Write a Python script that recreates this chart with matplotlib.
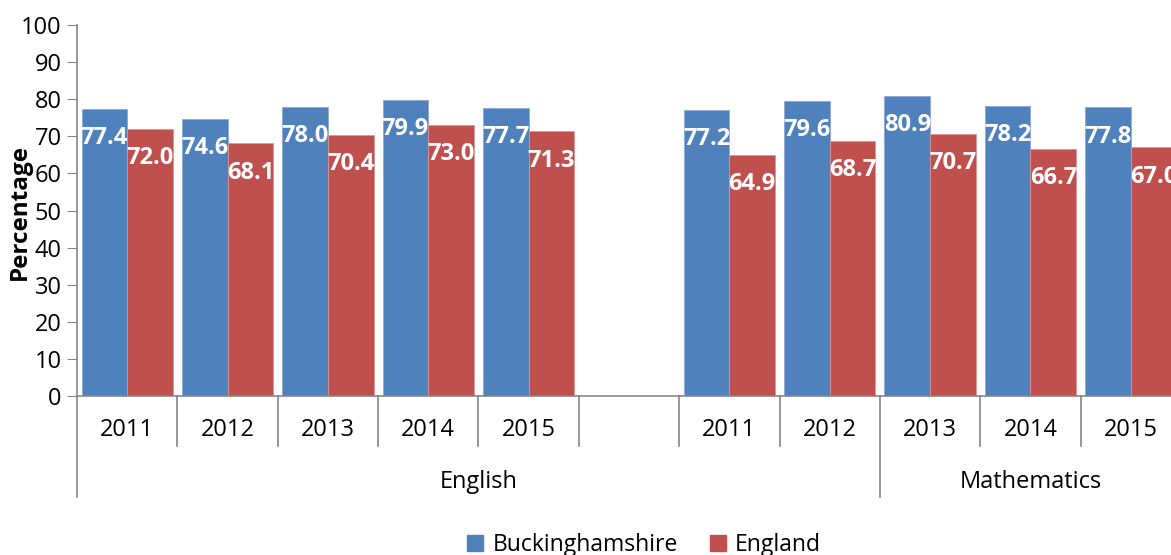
import numpy as np
import matplotlib.pyplot as plt
from matplotlib.patches import Patch

plt.rcParams['font.family'] = ['Open Sans', 'DejaVu Sans']

# category slots (one blank slot between the two runs of years)
years = ["2011", "2012", "2013", "2014", "2015", "",
         "2011", "2012", "2013", "2014", "2015"]
groups = ["English", "Mathematics"]
group_spans = [(0, 7), (8, 10)]  # first and last slot under each group label

bucks = [77.4, 74.6, 78.0, 79.9, 77.7, None, 77.2, 79.6, 80.9, 78.2, 77.8]
england = [72.0, 68.1, 70.4, 73.0, 71.3, None, 64.9, 68.7, 70.7, 66.7, 67.0]

blue = "#4F81BD"
red = "#C0504D"
grey = "#868686"

W, H = 1171, 555
fig = plt.figure(figsize=(W / 100, H / 100), dpi=100)
# plot area: x from 77px, slots 100.4px wide (the last one runs past the edge)
ax = fig.add_axes([77 / W, (H - 396) / H, (1181 - 77) / W, (396 - 25) / H])

n = len(years)
xs = np.arange(n)
w = 1 / 2.2

for x, b, e in zip(xs, bucks, england):
    if b is None:
        continue
    ax.bar(x - w / 2, b, w, color=blue, edgecolor="#8EAAD6", linewidth=0.6)
    ax.bar(x + w / 2, e, w, color=red, edgecolor="#D99694", linewidth=0.6)
    for xx, v in ((x - w / 2, b), (x + w / 2, e)):
        ax.annotate(f"{v:.1f}", xy=(xx, v), xytext=(0, -21),
                    textcoords="offset points", ha="center", va="center",
                    color="white", fontweight="bold", fontsize=17)

ax.set_xlim(-0.5, n - 0.5)
ax.set_ylim(0, 100)
ax.set_yticks(range(0, 101, 10))
ax.tick_params(axis="y", length=7, color=grey, labelsize=17, pad=4)
ax.set_xticks([])
for s in ("top", "right"):
    ax.spines[s].set_visible(False)
for s in ("left", "bottom"):
    ax.spines[s].set_color(grey)
    ax.spines[s].set_linewidth(1.2)
ax.spines["left"].set_bounds(0, 100)

# multi-level category axis drawn below the plot
short = -50 / 371
long = -101 / 371
trans = ax.get_xaxis_transform()
ax.plot([-0.5, -0.5], [0, long], color=grey, lw=1.2, transform=trans, clip_on=False)
for i in range(1, n + 1):
    bx = i - 0.5
    low = long if i == group_spans[0][1] + 1 else short
    ax.plot([bx, bx], [0, low], color=grey, lw=1.2, transform=trans, clip_on=False)
for x, lab in zip(xs, years):
    ax.text(x, -34 / 371, lab, ha="center", va="center", fontsize=17,
            transform=trans)
for g, (a, b) in zip(groups, group_spans):
    ax.text((a + b) / 2, -86 / 371, g, ha="center", va="center", fontsize=17,
            transform=trans)

fig.text(20 / W, 1 - 212 / H, "Percentage", rotation=90, ha="center",
         va="center", fontsize=17.5, fontweight="bold")

handles = [Patch(color=blue, label="Buckinghamshire"),
           Patch(color=red, label="England")]
fig.legend(handles=handles, loc="center", bbox_to_anchor=(644 / W, 1 - 545 / H),
           ncol=2, frameon=False, fontsize=16.5, handlelength=0.7,
           handleheight=0.7, handletextpad=0.4, columnspacing=1.4)

fig.savefig("out.png", dpi=100)
